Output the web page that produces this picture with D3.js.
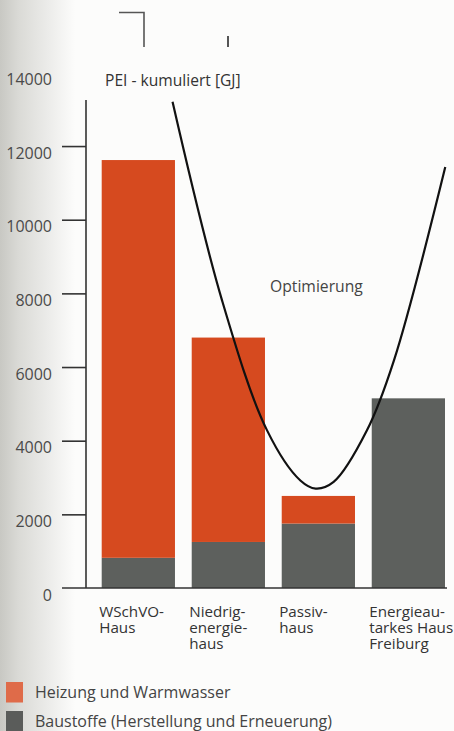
<!DOCTYPE html>
<html>
<head>
<meta charset="utf-8">
<script src="https://cdn.jsdelivr.net/npm/d3@7"></script>
<style>
  html, body { margin: 0; padding: 0; background: #fcfcfb; }
  svg { display: block; }
  text { font-family: "Open Sans", "Noto Sans", sans-serif; }
</style>
</head>
<body>
<svg id="chart" width="454" height="731"></svg>
<script>
// Building types (x categories)
const categories = ["WSchVO-Haus", "Niedrigenergiehaus", "Passivhaus", "Energieautarkes Haus Freiburg"];
const categoryLines = [
  ["WSchVO-", "Haus"],
  ["Niedrig-", "energie-", "haus"],
  ["Passiv-", "haus"],
  ["Energieau-", "tarkes Haus", "Freiburg"]
];
// Cumulative primary energy input [GJ]
const baustoffe = [820, 1250, 1750, 5150];        // building materials (production and renewal)
const heizung   = [10800, 5550, 750, 0];          // heating and hot water
// Y axis ticks
const yTicks = [0, 2000, 4000, 6000, 8000, 10000, 12000, 14000];
// "Optimierung" curve: position along the category axis (0 = first bar) and value
const curvePos = [0.38, 0.93, 1.43, 1.80, 1.97, 2.17, 2.54, 2.84, 3.41];
const curveVal = [13200, 7810, 4280, 2920, 2700, 2880, 4280, 6180, 11430];
// Legend
const legendLabels = ["Heizung und Warmwasser", "Baustoffe (Herstellung und Erneuerung)"];

const svg = d3.select("#chart");

// soft shading along the left page edge
const defs = svg.append("defs");
const grad = defs.append("linearGradient").attr("id", "edge").attr("x1", 0).attr("x2", 1).attr("y1", 0).attr("y2", 0);
grad.append("stop").attr("offset", 0).attr("stop-color", "#c8c8c3");
grad.append("stop").attr("offset", 0.25).attr("stop-color", "#dadad6");
grad.append("stop").attr("offset", 0.65).attr("stop-color", "#ececea");
grad.append("stop").attr("offset", 1).attr("stop-color", "#fcfcfb");
svg.append("rect").attr("x", 0).attr("y", 0).attr("width", 75).attr("height", 731).attr("fill", "url(#edge)");

const y = d3.scaleLinear().domain([0, 14000]).range([588, 72.4]);
const x = d3.scaleBand().domain(categories).range([101.7, 445]).paddingInner(0.186).paddingOuter(0);
const bw = x.bandwidth();
const xc = d3.scaleLinear().domain([0, categories.length - 1])
  .range([x(categories[0]) + bw / 2, x(categories[categories.length - 1]) + bw / 2]);

const orange = "#d64a1f";
const grey = "#5d605d";

// stacked bars
const rows = categories.map((c, i) => ({ cat: c, baustoffe: baustoffe[i], heizung: heizung[i] }));
const stack = d3.stack().keys(["baustoffe", "heizung"])(rows);
const colors = { baustoffe: grey, heizung: orange };
svg.append("g").selectAll("g").data(stack).join("g")
  .attr("fill", d => colors[d.key])
  .selectAll("rect").data(d => d.filter(s => s[1] > s[0])).join("rect")
  .attr("x", d => x(d.data.cat))
  .attr("width", bw)
  .attr("y", d => y(d[1]))
  .attr("height", d => y(d[0]) - y(d[1]));

// y axis
const axis = d3.axisLeft(y).tickValues(yTicks).tickSize(24).tickPadding(10).tickFormat(d3.format("d"));
const gAxis = svg.append("g").attr("transform", "translate(86,0)").call(axis);
gAxis.select(".domain").remove();
gAxis.selectAll(".tick line").attr("stroke", "#333").attr("stroke-width", 1.6)
  .filter(d => d === 14000 || d === 0).remove();
gAxis.selectAll(".tick text")
  .attr("fill", "#4a4a4a").attr("font-size", 16)
  .attr("y", 7);

// vertical axis line and baseline
svg.append("line").attr("x1", 86).attr("x2", 86).attr("y1", 100).attr("y2", y(0))
  .attr("stroke", "#333").attr("stroke-width", 1.6);
svg.append("line").attr("x1", 62).attr("x2", 447).attr("y1", y(0)).attr("y2", y(0))
  .attr("stroke", "#333").attr("stroke-width", 1.6);

// axis title
svg.append("text").attr("x", 105).attr("y", 86).attr("font-size", 15.6).attr("fill", "#333")
  .text("PEI - kumuliert [GJ]");

// optimisation curve
const line = d3.line().x(d => xc(d[0])).y(d => y(d[1])).curve(d3.curveCatmullRom.alpha(0.5));
svg.append("path").datum(curvePos.map((p, i) => [p, curveVal[i]]))
  .attr("d", line).attr("fill", "none").attr("stroke", "#111").attr("stroke-width", 2.2);
svg.append("text").attr("x", 270).attr("y", 291.5).attr("font-size", 15.7).attr("fill", "#444")
  .text("Optimierung");

// category labels, one text per line
categories.forEach((c, i) => {
  categoryLines[i].forEach((s, k) => {
    svg.append("text").attr("x", x(c) - 2.5).attr("y", 617 + k * 16.2)
      .attr("font-size", 15.2).attr("fill", "#333").text(s);
  });
});

// legend
const legendColors = ["#df6b49", "#5a5c5a"];
legendLabels.forEach((l, i) => {
  svg.append("rect").attr("x", 6).attr("y", 682 + i * 29).attr("width", 17).attr("height", 20.5).attr("fill", legendColors[i]);
  svg.append("text").attr("x", 35).attr("y", 698.3 + i * 28.4).attr("font-size", 16).attr("fill", "#444").text(l);
});

// marks at the top edge of the page
svg.append("path").attr("d", "M119,12.5H144V47").attr("fill", "none").attr("stroke", "#555").attr("stroke-width", 1.6);
svg.append("line").attr("x1", 228).attr("x2", 228).attr("y1", 36).attr("y2", 47).attr("stroke", "#555").attr("stroke-width", 2);
</script>
</body>
</html>
